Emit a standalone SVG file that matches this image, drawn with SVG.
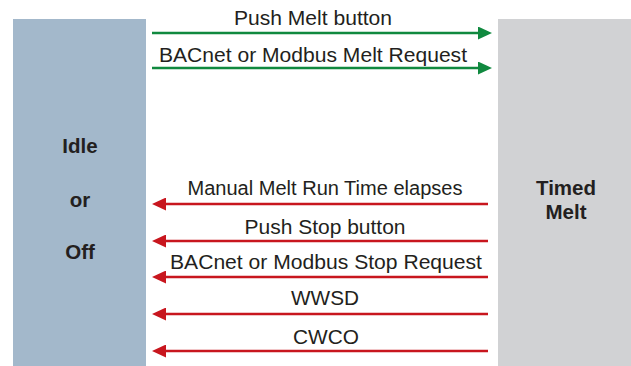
<svg xmlns="http://www.w3.org/2000/svg" width="631" height="366" viewBox="0 0 631 366">
<style>
.lbl{font-family:"Liberation Sans",Arial,sans-serif;font-size:19.5px;fill:#231f20;text-anchor:middle}
.node{font-family:"Liberation Sans",Arial,sans-serif;font-size:20.5px;font-weight:bold;fill:#231f20;text-anchor:middle}
.g{stroke:#10893f;stroke-width:2.5;fill:none}
.r{stroke:#c8161e;stroke-width:2.5;fill:none}
</style>
<defs>
<marker id="ag" markerUnits="userSpaceOnUse" markerWidth="14" markerHeight="13" refX="2" refY="6.5" orient="auto"><path d="M0,0 L14,6.5 L0,13 z" fill="#10893f"/></marker>
<marker id="ar" markerUnits="userSpaceOnUse" markerWidth="14" markerHeight="13" refX="2" refY="6.5" orient="auto"><path d="M0,0 L14,6.5 L0,13 z" fill="#c8161e"/></marker>
</defs>
<rect width="631" height="366" fill="#ffffff"/>
<g id="idle">
<rect x="13" y="19" width="133" height="347" fill="#a3b8cb"/>
<text class="node" x="80" y="153">Idle</text>
<text class="node" x="80" y="207">or</text>
<text class="node" x="80" y="259">Off</text>
</g>
<g id="timed">
<rect x="498" y="19" width="133" height="347" fill="#d1d2d4"/>
<text class="node" x="566" y="195">Timed</text>
<text class="node" x="566" y="219">Melt</text>
</g>
<g id="connectors">
<line class="g" x1="152" y1="33" x2="480" y2="33" marker-end="url(#ag)"/>
<line class="g" x1="152" y1="68" x2="480" y2="68" marker-end="url(#ag)"/>
<line class="r" x1="488" y1="204" x2="164" y2="204" marker-end="url(#ar)"/>
<line class="r" x1="488" y1="241" x2="164" y2="241" marker-end="url(#ar)"/>
<line class="r" x1="488" y1="277" x2="164" y2="277" marker-end="url(#ar)"/>
<line class="r" x1="488" y1="314" x2="164" y2="314" marker-end="url(#ar)"/>
<line class="r" x1="488" y1="351" x2="164" y2="351" marker-end="url(#ar)"/>
<text class="lbl" x="313" y="25" textLength="158" lengthAdjust="spacingAndGlyphs">Push Melt button</text>
<text class="lbl" x="313" y="62" textLength="308" lengthAdjust="spacingAndGlyphs">BACnet or Modbus Melt Request</text>
<text class="lbl" x="325" y="195" textLength="275" lengthAdjust="spacingAndGlyphs">Manual Melt Run Time elapses</text>
<text class="lbl" x="325" y="234" textLength="161" lengthAdjust="spacingAndGlyphs">Push Stop button</text>
<text class="lbl" x="326" y="269" textLength="312" lengthAdjust="spacingAndGlyphs">BACnet or Modbus Stop Request</text>
<text class="lbl" x="325" y="305" textLength="68" lengthAdjust="spacingAndGlyphs">WWSD</text>
<text class="lbl" x="326" y="344" textLength="66" lengthAdjust="spacingAndGlyphs">CWCO</text>
</g>
</svg>
